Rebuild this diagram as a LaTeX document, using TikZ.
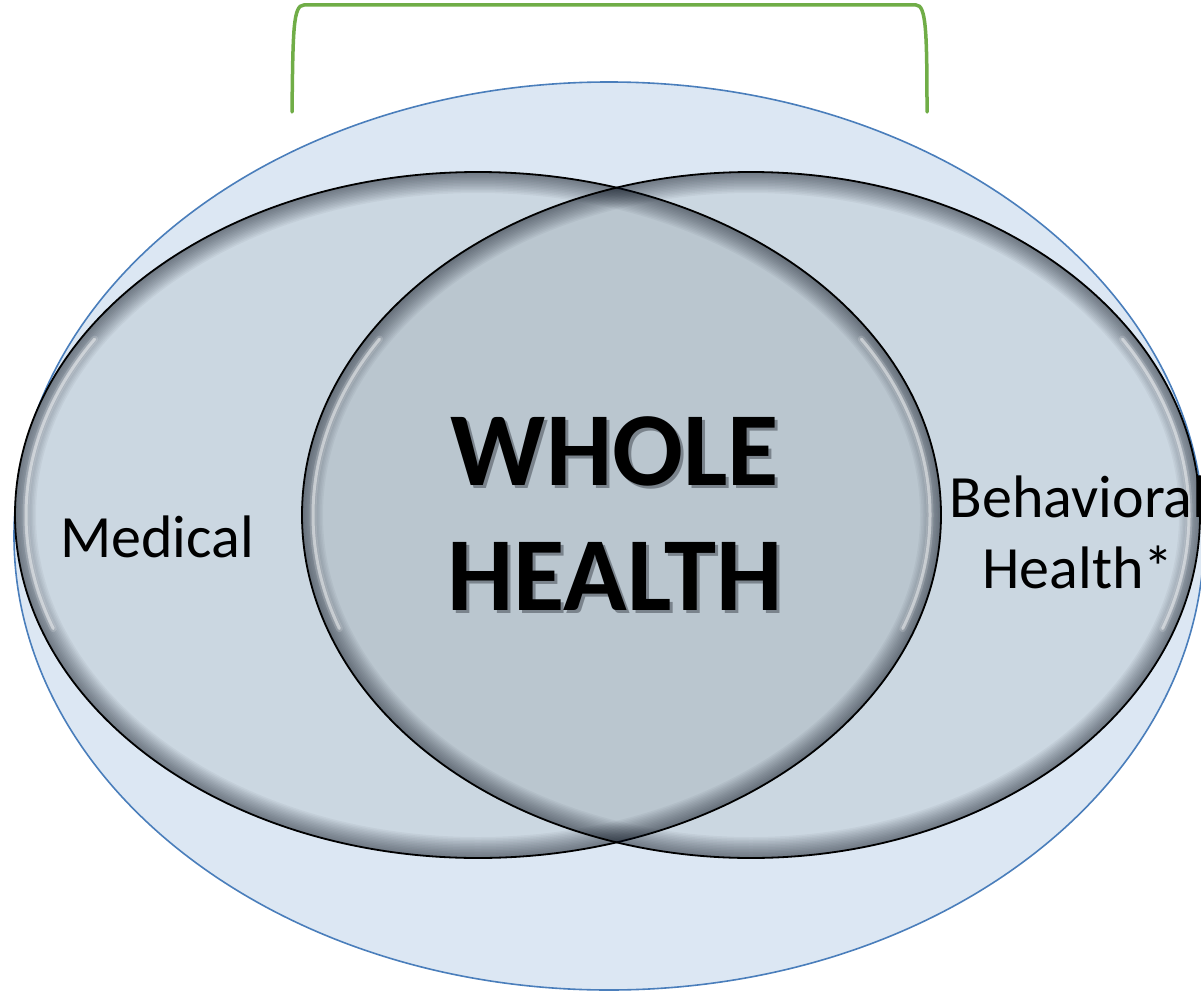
\documentclass[tikz,border=0pt]{standalone}
\usepackage{fontspec}
\usepackage{tikz}
\setmainfont{Carlito}
\definecolor{outerfill}{RGB}{220,231,243}
\definecolor{outerline}{RGB}{74,126,187}
\definecolor{setfill}{RGB}{203,215,225}
\definecolor{lensfill}{RGB}{186,198,207}
\definecolor{rimdark}{RGB}{18,26,38}
\definecolor{shadowgray}{RGB}{122,131,140}
\definecolor{bracegreen}{RGB}{112,173,71}
\newcommand\shadowtext[1]{\leavevmode\rlap{\hspace{3pt}\raisebox{-3pt}{\textcolor{shadowgray}{#1}}}#1}

\begin{document}
\begin{tikzpicture}[x=1pt,y=-1pt,line cap=round,
    setlabel/.style={font=\fontsize{60}{71}\selectfont,align=center,inner sep=0pt},
    biglabel/.style={font=\fontsize{105}{125}\selectfont\bfseries,align=center,inner sep=0pt}]
        \useasboundingbox (0,0) rectangle (1201,995);
        \clip (0,0) rectangle (1201,995);

        % draw the bracket on top
        \coordinate (braceL) at (292,112);
        \coordinate (braceR) at (927,112);
        \draw[bracegreen,line width=3.5] (braceL) .. controls (293,30) and (293,5) .. (304,5)
              -- (916,5) .. controls (926,5) and (927,30) .. (braceR);

        % draw the outer ellipse
        \filldraw[fill=outerfill,draw=outerline,line width=1.6] (609,536) ellipse [x radius=595, y radius=454];

        % centres of the two sets
        \coordinate (medc) at (478,515);
        \coordinate (behc) at (751,515);

        % fill both sets and the overlap
        \fill[setfill] (medc) ellipse [x radius=463, y radius=343];
        \fill[setfill] (behc) ellipse [x radius=449, y radius=343];
        \begin{scope}
                \clip (medc) ellipse [x radius=463, y radius=343];
                \fill[lensfill] (behc) ellipse [x radius=449, y radius=343];
        \end{scope}

        \foreach \c/\rx/\hx in {medc/463/452, behc/449/438} {
                % dark rim inside each set
                \begin{scope}
                        \clip (\c) ellipse [x radius=\rx, y radius=343];
                        \foreach \w in {3,6,...,42}
                                \draw[rimdark,opacity=0.045,line width=\w] (\c) ellipse [x radius=\rx, y radius=343];
                        % light edge on both sides
                        \foreach \lw/\o in {7/0.15, 3/0.45}{
                                \draw[white,opacity=\o,line width=\lw] (\c) ++(160:{\hx} and 332)
                                        arc [start angle=160, end angle=212, x radius=\hx, y radius=332];
                                \draw[white,opacity=\o,line width=\lw] (\c) ++(-32:{\hx} and 332)
                                        arc [start angle=-32, end angle=20, x radius=\hx, y radius=332];
                        }
                \end{scope}
                \draw[black,line width=1.8] (\c) ellipse [x radius=\rx, y radius=343];
        }

        % draw the labels
        \node[setlabel] (medical) at (157,537) {Medical};
        \node[setlabel] (behavioral) at (1078,532) {Behavioral\\Health*};
        \node[biglabel] (whole) at (615,515) {\shadowtext{WHOLE}\\\shadowtext{HEALTH}};
\end{tikzpicture}
\end{document}
